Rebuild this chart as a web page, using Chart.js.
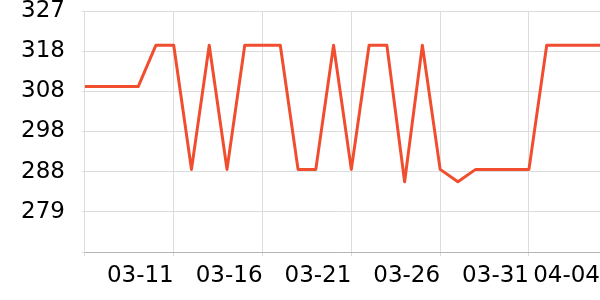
<!DOCTYPE html>
<html lang="en">
  <head>
    <meta charset="UTF-8" />
    <script src="https://cdn.jsdelivr.net/npm/chart.js@4.4.0/dist/chart.umd.min.js"></script>
    <title>line</title>
    <style>
      body {
        margin: 0;
        padding: 0;
        background: #fff;
      }
    </style>
  </head>
  <body>
    <canvas id="chart" width="600" height="300"></canvas>
    <script>
      const days = [
        '03-06', '03-07', '03-08', '03-09', '03-10', '03-11', '03-12', '03-13', '03-14', '03-15',
        '03-16', '03-17', '03-18', '03-19', '03-20', '03-21', '03-22', '03-23', '03-24', '03-25',
        '03-26', '03-27', '03-28', '03-29', '03-30', '03-31', '04-01', '04-02', '04-03', '04-04',
      ]
      const values = [
        309, 309, 309, 309, 319, 319, 289, 319, 289, 319,
        319, 319, 289, 289, 319, 289, 319, 319, 286, 319,
        289, 286, 289, 289, 289, 289, 319, 319, 319, 319,
      ]
      // days that get a tick and grid line
      const shownDays = ['03-06', '03-11', '03-16', '03-21', '03-26', '03-31', '04-04']

      const yMin = 269.05
      const yMax = 327.25
      const yStep = 9.7

      new Chart(document.getElementById('chart').getContext('2d'), {
        type: 'line',
        data: {
          labels: days,
          datasets: [
            {
              data: values,
              borderColor: '#f04e2f',
              borderWidth: 3,
              borderJoinStyle: 'round',
              pointRadius: 0,
              tension: 0,
              fill: false,
            },
          ],
        },
        options: {
          responsive: false,
          animation: false,
          layout: { padding: { left: 18, right: 0, top: 0, bottom: 12 } },
          plugins: {
            legend: { display: false },
            tooltip: { enabled: false },
          },
          scales: {
            x: {
              afterBuildTicks: (scale) => {
                scale.ticks = scale.ticks.filter((t) => shownDays.includes(days[t.value]))
              },
              ticks: {
                autoSkip: false,
                maxRotation: 0,
                align: 'end',
                padding: 0,
                color: '#000',
                font: { family: 'DejaVu Sans', size: 23, lineHeight: 1 },
                callback: function (v) {
                  return v === 0 ? '' : this.getLabelForValue(v)
                },
              },
              grid: {
                color: '#dcdcdc',
                tickLength: 13,
                tickBorderDash: [3, 100],
              },
              border: { color: '#b4b4b4' },
            },
            y: {
              min: yMin,
              max: yMax,
              afterBuildTicks: (scale) => {
                const ticks = []
                for (let v = yMin; v <= yMax + 0.01; v += yStep) ticks.push({ value: v })
                scale.ticks = ticks
              },
              ticks: {
                padding: 3,
                color: '#000',
                font: { family: 'DejaVu Sans', size: 23, lineHeight: 0.696 },
                callback: (v) => (v - yMin < 1 ? '' : Math.round(v)),
              },
              grid: {
                color: '#dcdcdc',
                tickLength: 17,
                tickBorderDash: [0, 14, 3],
              },
              border: { color: '#dcdcdc' },
            },
          },
        },
      })
    </script>
  </body>
</html>
